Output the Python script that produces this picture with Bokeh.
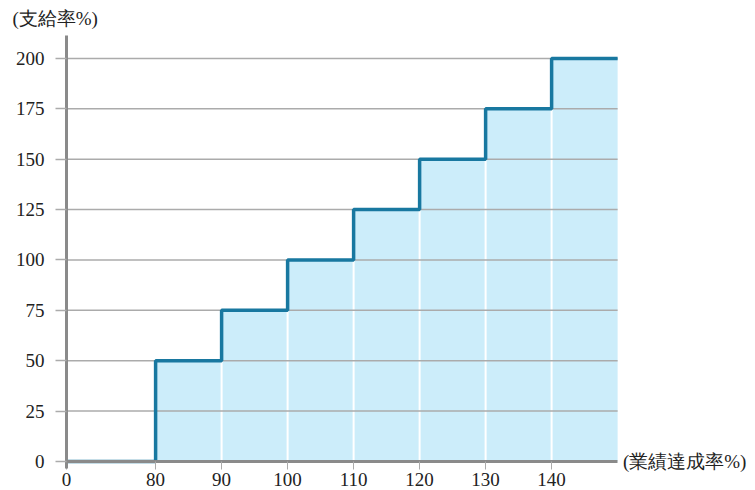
from bokeh.plotting import figure
from bokeh.models import Range1d, FixedTicker, Label
from bokeh.embed import file_html
from bokeh.resources import INLINE

# ---- data ----
x_ticks = [0, 80, 90, 100, 110, 120, 130, 140]
step_x = [0, 80, 90, 100, 110, 120, 130, 140, 150]
pay_rate = [0, 50, 75, 100, 125, 150, 175, 200, 200]
y_ticks = [0, 25, 50, 75, 100, 125, 150, 175, 200]
x_label = "(業績達成率%)"
y_label = "(支給率%)"

# compressed span for 0-80 on the axis
GAP = 13.5


def ax(v):
    return v * GAP / 80 if v <= 80 else GAP + (v - 80)


sx = [ax(v) for v in step_x]
x_end = ax(step_x[-1])

LINE = "#1878a0"
FILL = "#ccedfa"
GRID = "#ababab"
AXIS = "#8a8a8a"
TEXT = "#222222"
SERIF = "Liberation Serif"

p = figure(width=755, height=490, output_backend="svg", toolbar_location=None,
           x_range=Range1d(-10, 104.39), y_range=Range1d(-14.39, 228.77),
           min_border_left=0, min_border_right=0, min_border_top=0,
           min_border_bottom=0)
p.outline_line_color = None
p.background_fill_color = "white"

# fill under steps (from 80 on)
p.varea_step(x=sx[1:], y1=[0] * (len(sx) - 1), y2=pay_rate[1:],
             step_mode="after", fill_color=FILL, level="image")
# white dividers inside the fill
p.segment(x0=sx[2:-1], y0=[0] * (len(sx) - 3), x1=sx[2:-1], y1=pay_rate[1:-2],
          line_color="white", line_width=2, level="image")

# horizontal grid lines over the data span
gy = y_ticks[1:]
p.segment(x0=[0] * len(gy), y0=gy, x1=[x_end] * len(gy), y1=gy,
          line_color=GRID, line_width=1.5, level="underlay")

# step line
p.step(x=sx, y=pay_rate, mode="after", line_color=LINE, line_width=3.5)

p.xgrid.visible = False
p.ygrid.visible = False

# y axis, fixed at x = 0
ya = p.yaxis[0]
ya.fixed_location = 0
ya.bounds = (-3.5, 211.4)
ya.ticker = FixedTicker(ticks=y_ticks)
ya.axis_line_color = AXIS
ya.axis_line_width = 3
ya.major_tick_line_color = GRID
ya.major_tick_line_width = 1.5
ya.major_tick_out = 11
ya.major_tick_in = 0
ya.minor_tick_line_color = None
ya.major_label_standoff = 11
ya.major_label_text_font = SERIF
ya.major_label_text_font_size = "19px"
ya.major_label_text_color = TEXT

# x axis, fixed at y = 0
xa = p.xaxis[0]
xa.fixed_location = 0
xa.bounds = (0, x_end)
xa.ticker = FixedTicker(ticks=[ax(v) for v in x_ticks])
xa.major_label_overrides = {ax(v): str(v) for v in x_ticks}
xa.axis_line_color = AXIS
xa.axis_line_width = 3
xa.major_tick_line_color = GRID
xa.major_tick_line_width = 1
xa.major_tick_out = 8
xa.major_tick_in = 0
xa.minor_tick_line_color = None
xa.major_label_standoff = 3
xa.major_label_text_font = SERIF
xa.major_label_text_font_size = "19px"
xa.major_label_text_color = TEXT

# axis titles
p.add_layout(Label(x=-8.2, y=219.6, text=y_label, text_font=SERIF,
                   text_font_size="19px", text_baseline="middle", text_align="left",
                   text_color=TEXT))
p.add_layout(Label(x=x_end + 0.8, y=0, text=x_label, text_font=SERIF,
                   text_font_size="19px", text_baseline="middle", text_align="left",
                   text_color=TEXT))

open("out.html", "w").write(file_html(p, INLINE))
